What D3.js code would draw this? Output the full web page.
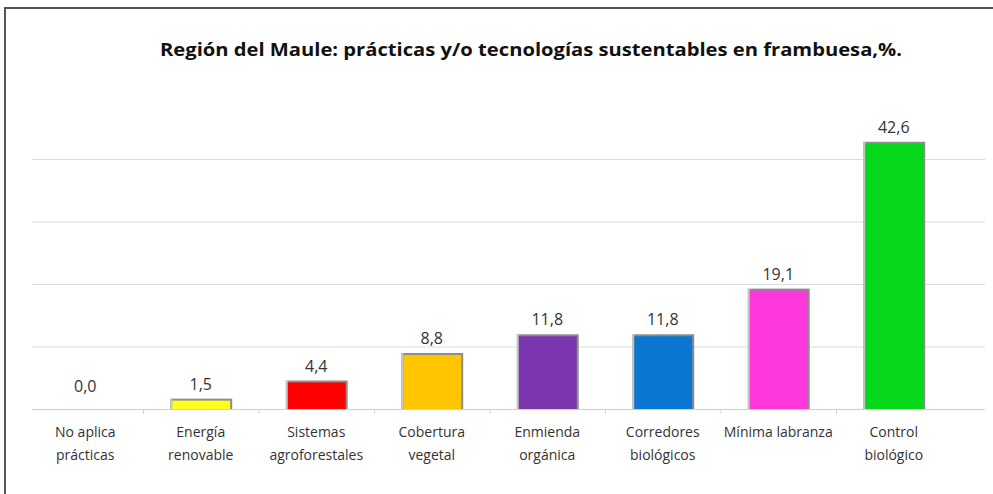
<!DOCTYPE html>
<html>
<head>
<meta charset="utf-8">
<script src="https://cdn.jsdelivr.net/npm/d3@7"></script>
<style>
  body { margin: 0; background: #fff; }
  svg { display: block; }
</style>
</head>
<body>
<div id="chart"></div>
<script>
const categories = [
    ["No aplica", "prácticas"],
    ["Energía", "renovable"],
    ["Sistemas", "agroforestales"],
    ["Cobertura", "vegetal"],
    ["Enmienda", "orgánica"],
    ["Corredores", "biológicos"],
    ["Mínima labranza"],
    ["Control", "biológico"]
]
const values = [0.0, 1.5, 4.4, 8.8, 11.8, 11.8, 19.1, 42.6]
const colors = ['#ffffff', '#ffff1a', '#ff0000', '#ffc600', '#7b35ae', '#0a78d0', '#ff38dc', '#05d81a']
const gridTicks = [10, 20, 30, 40]
const title = "Región del Maule: prácticas y/o tecnologías sustentables en frambuesa,%."

const w = 993
const h = 494
const x0 = 27.5
const x1 = 951.5
const base = 409
const font = "'Open Sans', sans-serif"

const data = values.map((v, i) => ({ i: i, v: v, color: colors[i], label: categories[i] }))

const svg = d3.select('#chart')
    .append('svg')
    .attr('width', w)
    .attr('height', h)

// frame
svg.append('path')
    .attr('d', 'M5,' + h + 'V8H' + w)
    .attr('fill', 'none')
    .attr('stroke', '#555')
    .attr('stroke-width', 2)

svg.append('text')
    .attr('x', 531)
    .attr('y', 56)
    .attr('text-anchor', 'middle')
    .attr('textLength', 742)
    .attr('lengthAdjust', 'spacingAndGlyphs')
    .style('font-family', font)
    .style('font-weight', 'bold')
    .style('font-size', '17px')
    .attr('fill', '#111')
    .text(title)

const xScale = d3.scaleBand()
    .domain(d3.range(categories.length))
    .range([x0, x1])
    .paddingInner(0.49)
    .paddingOuter(0.245)

const yScale = d3.scaleLinear()
    .domain([0, 40])
    .range([base, base - 250])

// gridlines
svg.append('g')
    .selectAll('line')
    .data(gridTicks)
    .enter()
    .append('line')
    .attr('x1', 32)
    .attr('x2', 985)
    .attr('y1', d => yScale(d) + 0.5)
    .attr('y2', d => yScale(d) + 0.5)
    .attr('stroke', '#dcdcdc')
    .attr('stroke-width', 1)

// bars: gray edge behind, colour on top
const bars = svg.append('g')
    .selectAll('g')
    .data(data.filter(d => d.v > 0))
    .enter()
    .append('g')

bars.append('rect')
    .attr('x', d => xScale(d.i) - 1)
    .attr('y', d => yScale(d.v) - 1)
    .attr('width', xScale.bandwidth() + 3)
    .attr('height', d => base - yScale(d.v) + 1)
    .attr('fill', '#8c8c8c')

bars.append('rect')
    .attr('x', d => xScale(d.i) - 1)
    .attr('y', d => yScale(d.v) - 1)
    .attr('width', 2)
    .attr('height', d => base - yScale(d.v) + 1)
    .attr('fill', '#c8c8c8')

bars.append('rect')
    .attr('x', d => xScale(d.i) + 1)
    .attr('y', d => yScale(d.v) + 1)
    .attr('width', xScale.bandwidth() - 1)
    .attr('height', d => Math.max(0, base - yScale(d.v) - 1))
    .attr('fill', d => d.color)

// baseline axis
const xAxis = d3.axisBottom(d3.scaleLinear().domain([x0, x1]).range([x0, x1]))
    .tickValues(d3.range(1, categories.length).map(i => x0 + i * xScale.step()))
    .tickSize(4)
    .tickFormat('')

const axisG = svg.append('g')
    .attr('transform', 'translate(0,' + (base + 0.5) + ')')
    .call(xAxis)
axisG.select('.domain').remove()
axisG.selectAll('line').attr('stroke', '#d0d0d0')
axisG.append('line')
    .attr('x1', 32)
    .attr('x2', 985)
    .attr('stroke', '#d0d0d0')

// value labels
svg.append('g')
    .selectAll('text')
    .data(data)
    .enter()
    .append('text')
    .attr('x', d => xScale(d.i) + xScale.bandwidth() / 2)
    .attr('y', d => yScale(d.v) - (d.v === 0 ? 17 : 10))
    .attr('text-anchor', 'middle')
    .style('font-family', font)
    .style('font-size', '16px')
    .attr('fill', '#333')
    .text(d => d.v.toFixed(1).replace('.', ','))

// category labels
const catG = svg.append('g')
    .selectAll('text')
    .data(data)
    .enter()
    .append('text')
    .attr('x', d => xScale(d.i) + xScale.bandwidth() / 2)
    .attr('y', 437)
    .attr('text-anchor', 'middle')
    .style('font-family', font)
    .style('font-size', '14px')
    .attr('fill', '#333')

catG.selectAll('tspan')
    .data(d => d.label.map(t => ({ t: t, x: xScale(d.i) + xScale.bandwidth() / 2 })))
    .enter()
    .append('tspan')
    .attr('x', d => d.x)
    .attr('dy', (d, i) => i === 0 ? 0 : 23)
    .text(d => d.t)
</script>
</body>
</html>
